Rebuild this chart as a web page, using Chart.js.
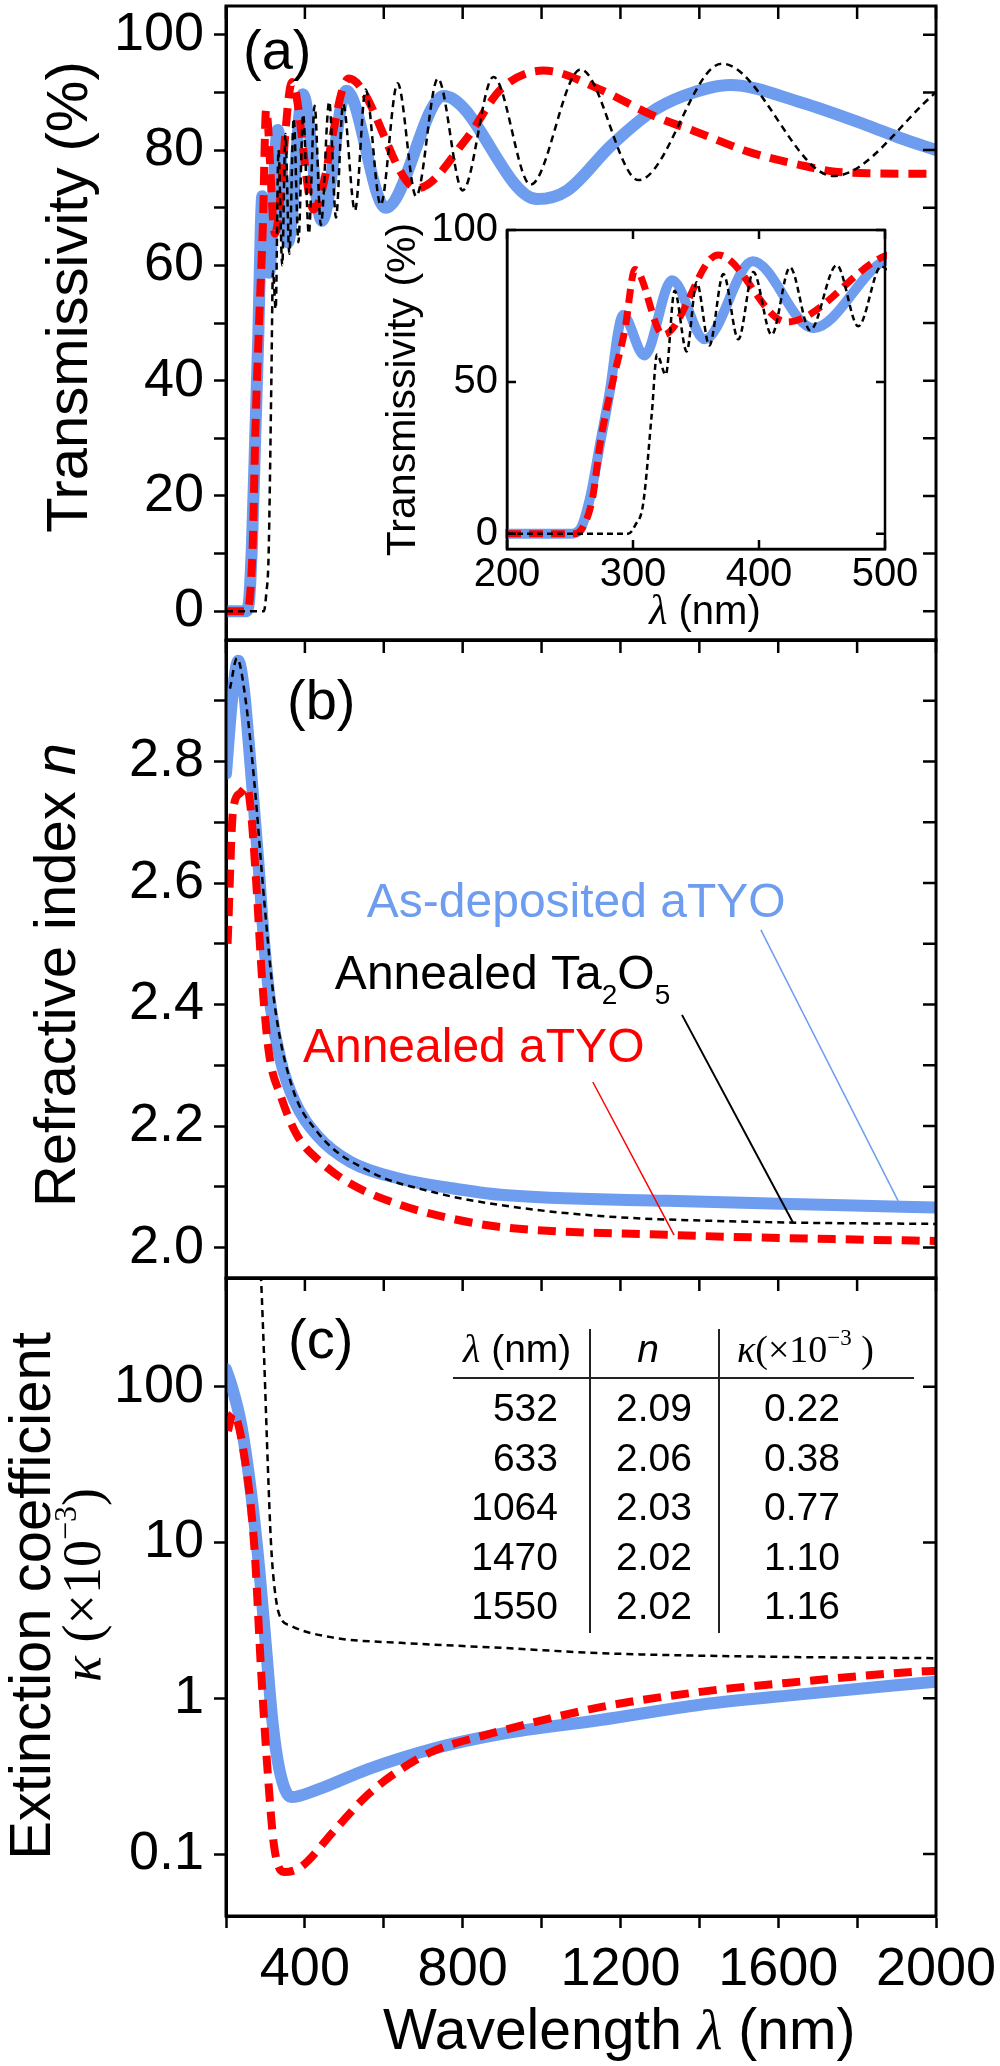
<!DOCTYPE html>
<html>
<head>
<meta charset="utf-8">
<script src="https://cdn.jsdelivr.net/npm/chart.js@4.4.0/dist/chart.umd.min.js"></script>
<style>
  html, body { margin: 0; padding: 0; background: #fff; }
  #wrap { position: relative; width: 1000px; height: 2066px; }
  #wrap canvas { position: absolute; left: 0; top: 0; }
</style>
</head>
<body>
<div id="wrap">
  <canvas id="chartA" width="1000" height="2066"></canvas>
  <canvas id="chartB" width="1000" height="2066"></canvas>
  <canvas id="chartC" width="1000" height="2066"></canvas>
  <canvas id="chartInset" width="1000" height="2066"></canvas>
</div>
<script>
// (a) transmissivity (%) vs wavelength (nm)
const tDepX = [200, 250, 258, 266, 274, 282, 288, 292, 309, 331, 357, 395, 443, 505, 605, 752, 989, 1065, 1175, 1276, 1360, 1478, 1656, 1825, 1909, 2000];
const tDepY = [0, 0, 1.5, 12, 30, 48, 66, 72, 58.7, 83.5, 64, 89.7, 67.7, 90.3, 70, 89.4, 71.5, 73, 80.7, 86.5, 89.4, 91.3, 88.3, 84.3, 82.1, 80];
const tAnnX = [200, 252, 260, 268, 274, 285, 293.5, 301.6, 324, 367.5, 422, 511, 685, 812, 896, 1005, 1149, 1276, 1403, 1529, 1656, 1739, 1825, 1967, 2000];
const tAnnY = [0, 0, 2, 12, 30, 52, 67, 87, 65.5, 91.8, 69.7, 92.4, 73.4, 82.2, 90.5, 93.8, 90.5, 86.2, 82.9, 79.6, 77.4, 76.3, 76.0, 75.9, 75.9];
const tTaX = [200, 296, 302, 308, 315, 319, 326, 333, 342.6, 350.5, 360.6, 371.7, 383.6, 395.5, 410, 424.6, 440.5, 461.7, 478.8, 497, 527, 554, 592, 635, 682, 737, 800, 878, 972, 1099, 1246, 1457, 1740, 2000];
const tTaY = [0, 0, 3, 9.7, 40, 59, 52.4, 80, 60, 82.8, 62, 85.5, 64, 86.2, 65.5, 87.7, 67, 88.4, 68.3, 88, 69.5, 90.5, 70.5, 91.6, 72, 92.4, 73, 92.7, 74, 94, 74.8, 95, 75.5, 90];

// (b) refractive index n
const nDepX = [200, 215, 231, 245, 259, 281, 297, 314, 339, 373, 432, 516, 643, 770, 896, 1318, 1740, 2000];
const nDepY = [2.78, 2.9, 2.966, 2.92, 2.82, 2.643, 2.5, 2.393, 2.307, 2.242, 2.184, 2.141, 2.113, 2.098, 2.087, 2.077, 2.07, 2.066];
const nTaX = [210, 228, 250, 272, 297, 322, 365, 432, 559, 727, 896, 1149, 1571, 2000];
const nTaY = [2.92, 2.97, 2.9, 2.765, 2.57, 2.406, 2.27, 2.19, 2.127, 2.091, 2.07, 2.052, 2.042, 2.039];
const nAnnX = [204, 218, 236, 253, 263, 276, 293, 309, 339, 381, 440, 516, 643, 770, 896, 1318, 1740, 2000];
const nAnnY = [2.5, 2.72, 2.748, 2.758, 2.72, 2.607, 2.428, 2.32, 2.249, 2.184, 2.141, 2.105, 2.07, 2.048, 2.034, 2.021, 2.014, 2.011];

// (c) extinction coefficient k (x1e-3)
const kDepX = [200, 215, 238, 263, 284, 301, 318, 335, 365, 432, 559, 727, 896, 1149, 1403, 1656, 2000];
const kDepY = [130, 100, 58, 21.5, 6.9, 2.19, 0.70, 0.352, 0.232, 0.259, 0.35, 0.476, 0.59, 0.726, 0.91, 1.06, 1.28];
const kAnnX = [205, 217, 246, 272, 289, 306, 322, 347, 390, 474, 559, 643, 727, 853, 1149, 1403, 1656, 1967, 2000];
const kAnnY = [52, 67.6, 36.6, 9.3, 1.5, 0.327, 0.112, 0.0766, 0.0826, 0.141, 0.24, 0.35, 0.46, 0.576, 0.877, 1.10, 1.28, 1.49, 1.5];
const kTaX = [284, 289, 297, 306, 314, 322, 335, 365, 474, 643, 896, 1149, 1571, 2000];
const kTaY = [900, 490, 145, 31.4, 10, 5.4, 3.45, 2.92, 2.45, 2.27, 2.11, 1.95, 1.85, 1.81];

// table in (c)
const tableLambda = [532, 633, 1064, 1470, 1550];
const tableN = [2.09, 2.06, 2.03, 2.02, 2.02];
const tableK = [0.22, 0.38, 0.77, 1.10, 1.16];

// ticks
const xTicks = [200, 400, 600, 800, 1000, 1200, 1400, 1600, 1800, 2000];
const xLabeled = [400, 800, 1200, 1600, 2000];
const tTicks = [0, 10, 20, 30, 40, 50, 60, 70, 80, 90, 100];
const tLabeled = [0, 20, 40, 60, 80, 100];
const nTicks = [2.0, 2.1, 2.2, 2.3, 2.4, 2.5, 2.6, 2.7, 2.8, 2.9];
const nLabeled = [2.0, 2.2, 2.4, 2.6, 2.8];
const kTicks = [0.1, 1, 10, 100];
const insetXTicks = [200, 300, 400, 500];
const insetYTicks = [0, 50, 100];

const BLUE = '#6e9def';
const RED = '#ff0000';
const SANS = '"Liberation Sans", Arial, sans-serif';
const SERIF = '"Liberation Serif", "Times New Roman", serif';
const sans = (s, st) => (st || '') + ' ' + s + 'px ' + SANS;
const serif = (s, st) => (st || '') + ' ' + s + 'px ' + SERIF;

// leader notes in (b), anchored in data units
const notes = [
  { color: BLUE, lw: 1.5, at: [557, 2.544], line: [[1556, 2.523], [1904, 2.077]],
    parts: [{ t: 'As-deposited aTYO', font: sans(48) }] },
  { color: '#000', lw: 2, at: [476, 2.426], line: [[1356, 2.383], [1638, 2.0405]],
    parts: [{ t: 'Annealed Ta', font: sans(48) }, { t: '2', font: sans(28), dy: 15 }, { t: 'O', font: sans(48) }, { t: '5', font: sans(28), dy: 15 }] },
  { color: RED, lw: 1.5, at: [395, 2.3055], line: [[1130, 2.2726], [1336, 2.0207]],
    parts: [{ t: 'Annealed aTYO', font: sans(48) }] }
];

Chart.defaults.font.family = SANS;
Chart.defaults.color = '#000';

function runs(ctx, x, y, parts, align) {
  let w = 0;
  parts.forEach(p => { ctx.font = p.font; w += ctx.measureText(p.t).width; });
  let cx = align === 'center' ? x - w / 2 : align === 'right' ? x - w : x;
  parts.forEach(p => {
    ctx.font = p.font;
    ctx.fillStyle = p.color || '#000';
    ctx.textAlign = 'left';
    ctx.textBaseline = 'alphabetic';
    ctx.fillText(p.t, cx, y + (p.dy || 0));
    cx += ctx.measureText(p.t).width;
  });
}

function vruns(ctx, bx, cy, parts) {
  ctx.save();
  ctx.translate(bx, cy);
  ctx.rotate(-Math.PI / 2);
  runs(ctx, 0, 0, parts, 'center');
  ctx.restore();
}

function decor(cfg) {
  return {
    id: 'decor',
    beforeDraw(chart) {
      if (!cfg.white) return;
      const a = chart.chartArea, ctx = chart.ctx;
      ctx.save();
      ctx.fillStyle = '#fff';
      ctx.fillRect(a.left, a.top, a.right - a.left, a.bottom - a.top);
      ctx.restore();
    },
    afterDraw(chart) {
      const a = chart.chartArea, ctx = chart.ctx;
      const sx = chart.scales.x, sy = chart.scales.y, L = cfg.tick;
      ctx.save();
      ctx.strokeStyle = '#000';
      ctx.lineWidth = cfg.tickWidth;
      ctx.beginPath();
      sx.ticks.forEach(t => {
        const px = sx.getPixelForValue(t.value);
        ctx.moveTo(px, a.top); ctx.lineTo(px, a.top + L);
        if (cfg.allSides) { ctx.moveTo(px, a.bottom); ctx.lineTo(px, a.bottom - L); }
      });
      sy.ticks.forEach(t => {
        const py = sy.getPixelForValue(t.value);
        ctx.moveTo(a.right, py); ctx.lineTo(a.right - L, py);
        if (cfg.allSides) { ctx.moveTo(a.left, py); ctx.lineTo(a.left + L, py); }
      });
      ctx.stroke();
      ctx.lineWidth = cfg.frame;
      ctx.strokeRect(a.left, a.top, a.right - a.left, a.bottom - a.top);
      ctx.restore();
      if (cfg.extra) { ctx.save(); cfg.extra(chart, ctx, a); ctx.restore(); }
    }
  };
}

function lineSet(xs, ys, look) {
  return Object.assign({
    data: xs.map((x, i) => ({ x: x, y: ys[i] })),
    pointRadius: 0,
    fill: false,
    cubicInterpolationMode: 'monotone'
  }, look);
}
const blueLook = { borderColor: BLUE, borderWidth: 12, borderCapStyle: 'round', borderJoinStyle: 'round' };
const redLook = { borderColor: RED, borderWidth: 8, borderDash: [18, 10] };
const blackLook = { borderColor: '#000', borderWidth: 2.5, borderDash: [7, 5] };

function useTicks(vals) { return scale => { scale.ticks = vals.map(v => ({ value: v })); }; }
function zeroPad(scale) { scale.paddingTop = 0; scale.paddingBottom = 0; scale.paddingLeft = 0; scale.paddingRight = 0; }
function fixWidth(w) { return scale => { scale.width = w; zeroPad(scale); }; }
function fixHeight(h) { return scale => { scale.height = h; zeroPad(scale); }; }

function mainX(showLabels) {
  return {
    type: 'linear', min: 200, max: 2000,
    afterBuildTicks: useTicks(xTicks),
    afterFit: fixHeight(showLabels ? 150 : 0),
    grid: { drawOnChartArea: false, drawTicks: showLabels, tickLength: 12, tickWidth: 2.5, color: '#000' },
    border: { display: true, width: 3, color: '#000' },
    ticks: { display: showLabels, autoSkip: false, maxRotation: 0, padding: 10, font: { size: 54 },
      callback: v => xLabeled.includes(v) ? String(v) : '' }
  };
}

function mainY(type, min, max, vals, fmt) {
  return {
    type: type, min: min, max: max,
    afterBuildTicks: useTicks(vals),
    afterFit: fixWidth(226),
    grid: { drawOnChartArea: false, drawTicks: true, tickLength: 12, tickWidth: 2.5, color: '#000' },
    border: { display: true, width: 3, color: '#000' },
    ticks: { autoSkip: false, padding: 10, font: { size: 54 }, callback: fmt }
  };
}

function options(pad, scales) {
  return {
    responsive: false, animation: false, devicePixelRatio: 1, events: [],
    layout: { padding: pad },
    plugins: { legend: { display: false }, tooltip: { enabled: false } },
    scales: scales
  };
}

// (a)
new Chart(document.getElementById('chartA'), {
  type: 'line',
  data: { datasets: [lineSet(tTaX, tTaY, blackLook), lineSet(tAnnX, tAnnY, redLook), lineSet(tDepX, tDepY, blueLook)] },
  options: options({ left: 0, right: 64, top: 6, bottom: 1426 }, {
    x: mainX(false),
    y: mainY('linear', -5, 105, tTicks, v => tLabeled.includes(v) ? String(v) : '')
  }),
  plugins: [decor({ tick: 13, tickWidth: 2.5, frame: 3, extra(chart, ctx, a) {
    runs(ctx, a.left + 17, a.top + 63, [{ t: '(a)', font: sans(56) }]);
    vruns(ctx, a.left - 139, (a.top + a.bottom) / 2 - 26, [{ t: 'Transmissivity (%)', font: sans(58) }]);
  } })]
});

// (b)
new Chart(document.getElementById('chartB'), {
  type: 'line',
  data: { datasets: [lineSet(nTaX, nTaY, blackLook), lineSet(nAnnX, nAnnY, redLook), lineSet(nDepX, nDepY, blueLook)] },
  options: options({ left: 0, right: 64, top: 640, bottom: 788 }, {
    x: mainX(false),
    y: mainY('linear', 1.95, 3.0, nTicks, v => nLabeled.includes(v) ? v.toFixed(1) : '')
  }),
  plugins: [decor({ tick: 13, tickWidth: 2.5, frame: 3, extra(chart, ctx, a) {
    const sx = chart.scales.x, sy = chart.scales.y;
    runs(ctx, a.left + 61, a.top + 79, [{ t: '(b)', font: sans(56) }]);
    vruns(ctx, a.left - 151, (a.top + a.bottom) / 2 + 16, [{ t: 'Refractive index ', font: sans(58) }, { t: 'n', font: sans(58, 'italic') }]);
    notes.forEach(nt => {
      ctx.strokeStyle = nt.color;
      ctx.lineWidth = nt.lw;
      ctx.beginPath();
      ctx.moveTo(sx.getPixelForValue(nt.line[0][0]), sy.getPixelForValue(nt.line[0][1]));
      ctx.lineTo(sx.getPixelForValue(nt.line[1][0]), sy.getPixelForValue(nt.line[1][1]));
      ctx.stroke();
      runs(ctx, sx.getPixelForValue(nt.at[0]), sy.getPixelForValue(nt.at[1]),
        nt.parts.map(p => Object.assign({ color: nt.color }, p)));
    });
  } })]
});

// (c)
new Chart(document.getElementById('chartC'), {
  type: 'line',
  data: { datasets: [lineSet(kTaX, kTaY, blackLook), lineSet(kAnnX, kAnnY, redLook), lineSet(kDepX, kDepY, blueLook)] },
  options: options({ left: 0, right: 64, top: 1278, bottom: 0 }, {
    x: mainX(true),
    y: mainY('logarithmic', 0.04, 500, kTicks, v => String(v))
  }),
  plugins: [decor({ tick: 13, tickWidth: 2.5, frame: 3, extra(chart, ctx, a) {
    runs(ctx, a.left + 62, a.top + 80, [{ t: '(c)', font: sans(56) }]);
    const cy = (a.top + a.bottom) / 2;
    vruns(ctx, a.left - 176, cy - 1, [{ t: 'Extinction coefficient', font: sans(58) }]);
    vruns(ctx, a.left - 126, cy - 12, [
      { t: 'κ', font: serif(54, 'italic') }, { t: ' (×10', font: serif(54) },
      { t: '−3', font: serif(32), dy: -24 }, { t: ')', font: serif(54) }]);
    runs(ctx, a.left + 157, a.bottom + 133, [
      { t: 'Wavelength ', font: sans(57) }, { t: 'λ', font: serif(57, 'italic') }, { t: ' (nm)', font: sans(57) }]);

    // table
    const tx = a.left, ty = a.top;
    runs(ctx, tx + 237, ty + 84, [{ t: 'λ', font: serif(40, 'italic') }, { t: ' (nm)', font: sans(39) }]);
    runs(ctx, tx + 422, ty + 84, [{ t: 'n', font: sans(39, 'italic') }], 'center');
    runs(ctx, tx + 511, ty + 84, [
      { t: 'κ', font: serif(38, 'italic') }, { t: '(×10', font: serif(38) },
      { t: '−3', font: serif(23), dy: -17 }, { t: ' )', font: serif(38) }]);
    ctx.strokeStyle = '#222';
    ctx.lineWidth = 2;
    ctx.beginPath();
    ctx.moveTo(tx + 227, ty + 100); ctx.lineTo(tx + 688, ty + 100);
    ctx.moveTo(tx + 364, ty + 51); ctx.lineTo(tx + 364, ty + 355);
    ctx.moveTo(tx + 493, ty + 51); ctx.lineTo(tx + 493, ty + 355);
    ctx.stroke();
    tableLambda.forEach((l, i) => {
      const by = ty + 143 + i * 49.5;
      runs(ctx, tx + 332, by, [{ t: String(l), font: sans(39) }], 'right');
      runs(ctx, tx + 428, by, [{ t: tableN[i].toFixed(2), font: sans(39) }], 'center');
      runs(ctx, tx + 576, by, [{ t: tableK[i].toFixed(2), font: sans(39) }], 'center');
    });
  } })]
});

// inset of (a)
const insetBlue = Object.assign({}, blueLook, { borderWidth: 10, clip: 2 });
const insetRed = Object.assign({}, redLook, { borderWidth: 7, borderDash: [14, 8], clip: 2 });
const insetBlack = Object.assign({}, blackLook, { borderDash: [6, 4], clip: 2 });
new Chart(document.getElementById('chartInset'), {
  type: 'line',
  data: { datasets: [lineSet(tTaX, tTaY, insetBlack), lineSet(tAnnX, tAnnY, insetRed), lineSet(tDepX, tDepY, insetBlue)] },
  options: options({ left: 407, right: 115, top: 230, bottom: 1457 }, {
    x: {
      type: 'linear', min: 200, max: 500,
      afterBuildTicks: useTicks(insetXTicks),
      afterFit: fixHeight(60),
      grid: { drawOnChartArea: false, drawTicks: false },
      border: { display: true, width: 2.5, color: '#000' },
      ticks: { autoSkip: false, maxRotation: 0, padding: 2, font: { size: 40 } }
    },
    y: {
      type: 'linear', min: -5, max: 100,
      afterBuildTicks: useTicks(insetYTicks),
      afterFit: fixWidth(100),
      grid: { drawOnChartArea: false, drawTicks: false },
      border: { display: true, width: 2.5, color: '#000' },
      ticks: { autoSkip: false, padding: 9, font: { size: 40 } }
    }
  }),
  plugins: [decor({ white: true, allSides: true, tick: 9, tickWidth: 2.5, frame: 2.5, extra(chart, ctx, a) {
    vruns(ctx, a.left - 92, (a.top + a.bottom) / 2, [{ t: 'Transmissivity (%)', font: sans(41) }]);
    runs(ctx, (a.left + a.right) / 2 + 9, a.bottom + 75, [{ t: 'λ', font: serif(42, 'italic') }, { t: ' (nm)', font: sans(40) }], 'center');
  } })]
});
</script>
</body>
</html>
